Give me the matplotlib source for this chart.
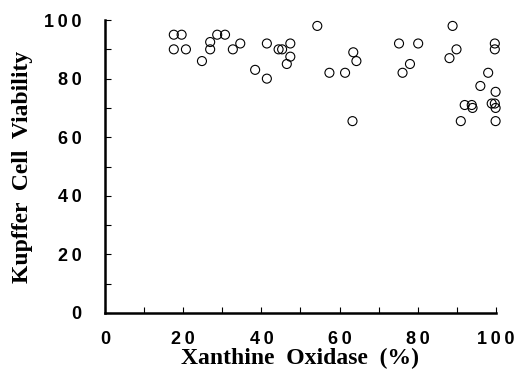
import matplotlib
matplotlib.use("Agg")
import matplotlib.pyplot as plt

# Xanthine oxidase (%) vs Kupffer cell viability
xo = [17.6, 19.6, 17.6, 20.7, 24.8, 26.9, 26.9, 28.7, 30.7, 32.7, 34.6, 38.4,
      41.4, 41.4, 44.4, 45.3, 47.4, 47.4, 46.5, 54.3, 57.4, 61.4, 63.5, 64.3,
      63.3, 75.2, 80.1, 78.0, 76.1, 88.9, 89.9, 88.1, 99.7, 99.7, 98.0, 96.0,
      99.9, 98.9, 99.7, 99.9, 92.0, 93.8, 94.0, 91.0, 99.9]
viab = [95, 95, 90, 90, 86, 92.5, 90, 95, 95, 90, 92, 83,
        80, 92, 90, 90, 92, 87.5, 85, 98, 82, 82, 89, 86,
        65.5, 92, 92, 85, 82, 98, 90, 87, 92, 90, 82, 77.5,
        75.5, 71.5, 71.5, 70, 71, 71, 70, 65.5, 65.5]

ticks = [0, 20, 40, 60, 80, 100]
tick_labels = ["0", "2\u20090", "4\u20090", "6\u20090", "8\u20090", "1\u20090\u20090"]

fig = plt.figure(figsize=(5.21, 3.77), dpi=100)
ax = fig.add_axes([0.2015, 0.1698, 0.7505, 0.777])

ax.scatter(xo, viab, s=42, facecolors="none", edgecolors="black",
           linewidths=0.8, clip_on=False, zorder=3)

ax.set_xlim(0, 100)
ax.set_ylim(0, 100)
ax.spines["top"].set_visible(False)
ax.spines["right"].set_visible(False)
ax.spines["left"].set_linewidth(1.8)
ax.spines["bottom"].set_linewidth(1.8)

ax.set_xticks(ticks)
ax.set_yticks(ticks)
ax.set_xticks(range(10, 100, 20), minor=True)
ax.set_yticks(range(10, 100, 20), minor=True)
ax.set_xticklabels(tick_labels, fontfamily=["Liberation Sans", "DejaVu Sans"],
                   fontweight="bold", fontsize=13)
ax.set_yticklabels(tick_labels, fontfamily=["Liberation Sans", "DejaVu Sans"],
                   fontweight="bold", fontsize=13)
ax.tick_params(which="both", direction="in", length=4, width=0.8)
ax.tick_params(axis="x", which="major", pad=13)
ax.tick_params(axis="y", which="major", pad=17)

ax.set_xlabel("Xanthine  Oxidase  (%)", fontfamily="Liberation Serif",
              fontweight="bold", fontsize=17, labelpad=0)
ax.set_ylabel("Kupffer  Cell  Viability", fontfamily="Liberation Serif",
              fontweight="bold", fontsize=17, labelpad=8)

plt.savefig("out.png", dpi=100)
